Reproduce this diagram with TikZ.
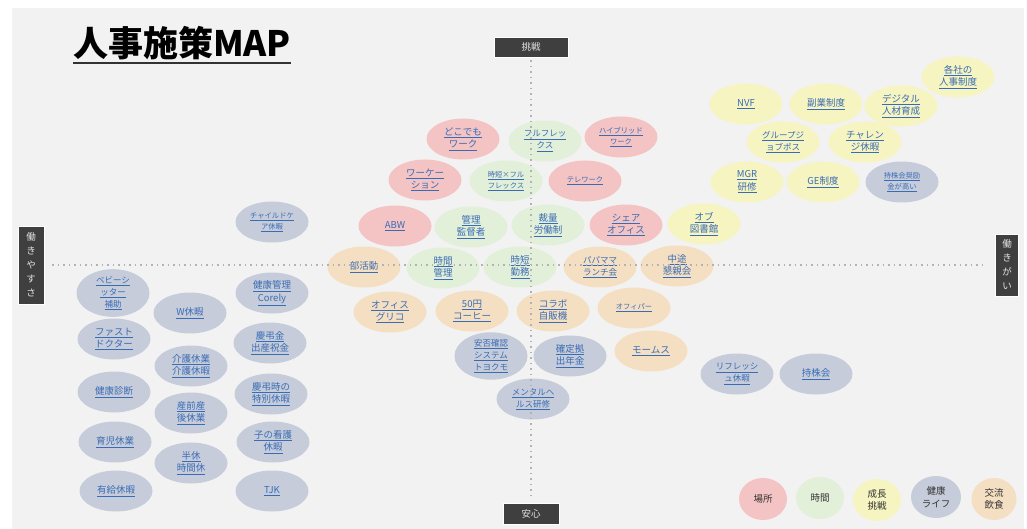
\documentclass[tikz,border=0pt]{standalone}
\usepackage{fontspec}
\setmainfont{Noto Sans CJK JP}
\usepackage{tikz}
\usetikzlibrary{shapes.geometric,positioning}
\definecolor{mapbg}{HTML}{F2F2F2}
\definecolor{placecol}{HTML}{F4C3C3}
\definecolor{timecol}{HTML}{E2EFD9}
\definecolor{growcol}{HTML}{F6F4C0}
\definecolor{lifecol}{HTML}{C6CCDA}
\definecolor{talkcol}{HTML}{F5DFC2}
\definecolor{axiscol}{HTML}{3F3F3F}
\definecolor{linkcol}{HTML}{3A6CB4}
\newcommand{\lk}[1]{\underline{#1}}

\begin{document}
\begin{tikzpicture}[
  x=1pt,y=-1pt,
  plan/.style={ellipse,minimum width=73pt,minimum height=41pt,inner sep=0pt,
               align=center,text=linkcol,font=\fontsize{9.5}{12.5}\selectfont},
  mid/.style={font=\fontsize{8.5}{12}\selectfont},
  tiny/.style={font=\fontsize{7.3}{11}\selectfont},
  placeb/.style={plan,fill=placecol},
  timeb/.style={plan,fill=timecol},
  growb/.style={plan,fill=growcol},
  lifeb/.style={plan,fill=lifecol},
  talkb/.style={plan,fill=talkcol},
  legendkey/.style={minimum width=48pt,minimum height=42pt,text=black!80},
  axisbox/.style={draw=white,line width=0.8pt,fill=axiscol,text=white!90!black,
                  inner sep=0pt,align=center,font=\fontsize{9.5}{14}\selectfont},
  axisline/.style={draw=black!30,line width=1.5pt,dash pattern=on 1.5pt off 4pt}
]
\useasboundingbox (0,0) rectangle (1027,529);
\fill[white] (0,0) rectangle (1027,529);
\fill[mapbg] (12,8) rectangle (1024,529);

% title
\node[anchor=west,inner sep=0pt,font=\fontsize{35}{35}\bfseries\selectfont] (title) at (73,43) {人事施策MAP};
\draw[line width=2pt,black!80] ([yshift=-3pt]title.south west) -- ([yshift=-3pt]title.south east);

% place
\node[placeb] (dokodemo) at (463,139) {\lk{どこでも}\\\lk{ワーク}};
\node[placeb,tiny] (hybrid) at (621,137) {\lk{ハイブリッド}\\\lk{ワーク}};
\node[placeb] (workation) at (425,180) {\lk{ワーケー}\\\lk{ション}};
\node[placeb,tiny] (telework) at (585,181) {\lk{テレワーク}};
\node[placeb] (abw) at (395,226) {\lk{ABW}};
\node[placeb] (share) at (626,225) {\lk{シェア}\\\lk{オフィス}};

% time
\node[timeb,mid] (flex) at (545,141) {\lk{フルフレッ}\\\lk{クス}};
\node[timeb,tiny] (jitanflex) at (506,181) {\lk{時短×フル}\\\lk{フレックス}};
\node[timeb] (kanri) at (471,227) {\lk{管理}\\\lk{監督者}};
\node[timeb] (sairyo) at (548,225) {\lk{裁量}\\\lk{労働制}};
\node[timeb] (jikan) at (443,268) {\lk{時間}\\\lk{管理}};
\node[timeb] (jitan) at (520,267) {\lk{時短}\\\lk{勤務}};

% growth
\node[growb] (kakusha) at (958,77) {\lk{各社の}\\\lk{人事制度}};
\node[growb] (nvf) at (746,104) {\lk{NVF}};
\node[growb] (fukugyo) at (826,104) {\lk{副業制度}};
\node[growb] (digital) at (901,106) {\lk{デジタル}\\\lk{人材育成}};
\node[growb,mid] (jobpos) at (783,142) {\lk{グループジ}\\\lk{ョブポス}};
\node[growb] (challenge) at (865,142) {\lk{チャレン}\\\lk{ジ休暇}};
\node[growb] (mgr) at (747,182) {\lk{MGR}\\\lk{研修}};
\node[growb] (ge) at (823,182) {\lk{GE制度}};
\node[growb] (library) at (704,224) {\lk{オブ}\\\lk{図書館}};

% talk
\node[talkb] (bukatsu) at (364,267) {\lk{部活動}};
\node[talkb,mid] (papamama) at (600,267) {\lk{パパママ}\\\lk{ランチ会}};
\node[talkb] (chuto) at (677,266) {\lk{中途}\\\lk{懇親会}};
\node[talkb] (glico) at (390,312) {\lk{オフィス}\\\lk{グリコ}};
\node[talkb] (coffee) at (472,311) {\lk{50円}\\\lk{コーヒー}};
\node[talkb] (vending) at (553,311) {\lk{コラボ}\\\lk{自販機}};
\node[talkb,tiny] (offipa) at (634,308) {\lk{オフィパー}};
\node[talkb] (moms) at (651,351) {\lk{モームス}};

% life
\node[lifeb,tiny] (kabukin) at (902,182) {\lk{持株会奨励}\\\lk{金が高い}};
\node[lifeb,mid] (anpi) at (491,356) {\lk{安否確認}\\\lk{システム}\\\lk{トヨクモ}};
\node[lifeb] (nenkin) at (570,356) {\lk{確定拠}\\\lk{出年金}};
\node[lifeb,mid] (mental) at (533,399) {\lk{メンタルヘ}\\\lk{ルス研修}};
\node[lifeb,mid] (refresh) at (737,374) {\lk{リフレッシ}\\\lk{ュ休暇}};
\node[lifeb] (mochikabu) at (816,374) {\lk{持株会}};
\node[lifeb,tiny] (childcare) at (272,222) {\lk{チャイルドケ}\\\lk{ア休暇}};
\node[lifeb,mid] (sitter) at (113,293) {\lk{ベビーシ}\\\lk{ッター}\\\lk{補助}};
\node[lifeb] (wkyuka) at (190,313) {\lk{W休暇}};
\node[lifeb] (corely) at (272,293) {\lk{健康管理}\\\lk{Corely}};
\node[lifeb] (fast) at (114,339) {\lk{ファスト}\\\lk{ドクター}};
\node[lifeb] (keicho) at (270,343) {\lk{慶弔金}\\\lk{出産祝金}};
\node[lifeb] (kaigo) at (191,366) {\lk{介護休業}\\\lk{介護休暇}};
\node[lifeb] (kenshin) at (114,392) {\lk{健康診断}};
\node[lifeb] (keichoji) at (271,394) {\lk{慶弔時の}\\\lk{特別休暇}};
\node[lifeb] (sanzen) at (191,413) {\lk{産前産}\\\lk{後休業}};
\node[lifeb] (ikuji) at (115,442) {\lk{育児休業}};
\node[lifeb] (kango) at (273,442) {\lk{子の看護}\\\lk{休暇}};
\node[lifeb] (hankyu) at (191,463) {\lk{半休}\\\lk{時間休}};
\node[lifeb] (yukyu) at (116,491) {\lk{有給休暇}};
\node[lifeb] (tjk) at (272,491) {\lk{TJK}};

% legend
\node[placeb,legendkey] (kplace) at (763,499) {場所};
\node[timeb,legendkey] (ktime) at (820,498) {時間};
\node[growb,legendkey] (kgrow) at (877,500) {成長\\挑戦};
\node[lifeb,legendkey,minimum width=50pt] (klife) at (936,497) {健康\\ライフ};
\node[talkb,legendkey,minimum width=45pt] (ktalk) at (994,499) {交流\\飲食};

% axes
\node[axisbox,minimum width=74pt,minimum height=20pt] (up) at (531,47) {挑戦};
\node[axisbox,minimum width=56pt,minimum height=21pt] (down) at (531,514) {安心};
\node[axisbox,minimum width=26pt,minimum height=78pt] (left) at (31,265) {働\\き\\や\\す\\さ};
\node[axisbox,minimum width=23pt,minimum height=62pt] (right) at (1007,265) {働\\き\\が\\い};
\draw[axisline] ([yshift=-3pt]up.south) -- ([yshift=3pt]down.north);
\draw[axisline] ([xshift=8pt]left.east) -- ([xshift=-8pt]right.west);
\end{tikzpicture}
\end{document}
